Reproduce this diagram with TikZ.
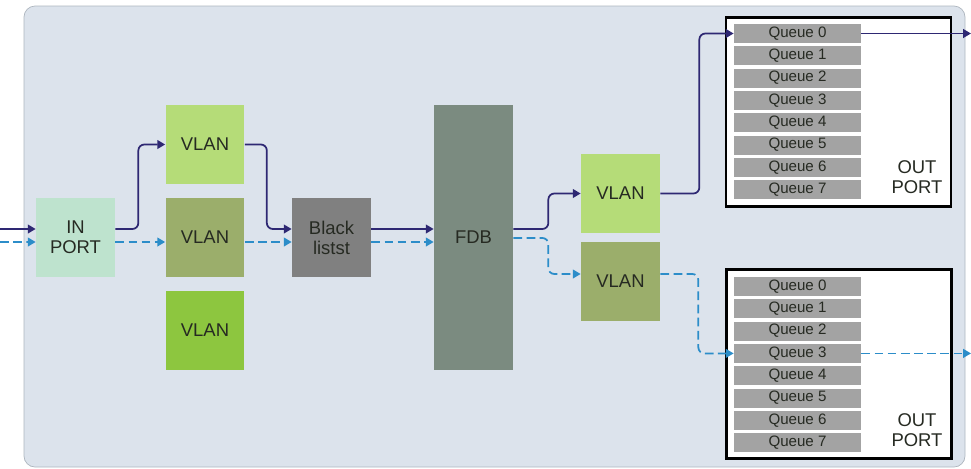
\documentclass[tikz,border=0pt]{standalone}
\usepackage{fontspec}
\setmainfont{Liberation Sans}
\usetikzlibrary{arrows.meta, positioning}

\definecolor{panelbg}{HTML}{DCE3EC}
\definecolor{panelrim}{HTML}{AEB6BF}
\definecolor{inportfill}{HTML}{BEE3CE}
\definecolor{vlanlight}{HTML}{B5DC78}
\definecolor{vlanolive}{HTML}{9BAE6B}
\definecolor{vlanbright}{HTML}{8DC63F}
\definecolor{blackfill}{HTML}{808080}
\definecolor{fdbfill}{HTML}{7B8B80}
\definecolor{queuefill}{HTML}{A3A3A3}
\definecolor{navyline}{HTML}{2E2873}
\definecolor{blueline}{HTML}{2C8DC9}
\definecolor{txtdark}{HTML}{262A22}

\begin{document}
\begin{tikzpicture}[
    x=0.02cm, y=-0.02cm,
    blk/.style={minimum width=1.58cm, minimum height=1.58cm, inner sep=0pt, align=center,
                font=\fontsize{10.5}{11.5}\selectfont, text=txtdark},
    inbox/.style={blk, fill=inportfill},
    vlanA/.style={blk, fill=vlanlight},
    vlanB/.style={blk, fill=vlanolive},
    vlanC/.style={blk, fill=vlanbright},
    blist/.style={blk, fill=blackfill},
    fdbbox/.style={blk, fill=fdbfill, minimum height=5.3cm},
    outbox/.style={draw=black, line width=1.4pt, fill=white, minimum width=4.5cm, minimum height=3.78cm, inner sep=0pt},
    queue/.style={fill=queuefill, minimum width=2.54cm, minimum height=0.38cm, inner sep=0pt,
                  font=\fontsize{8.6}{9}\selectfont, text=txtdark},
    portlbl/.style={align=center, font=\fontsize{10.5}{11.5}\selectfont, text=txtdark},
    flowA/.style={draw=navyline, line width=1pt, rounded corners=0.12cm, -{Triangle[length=4.5pt,width=5pt]}},
    flowB/.style={flowA, draw=blueline, dash pattern=on 5pt off 2.5pt}
]

\useasboundingbox (0,0) rectangle (971,468);
\draw[panelrim, fill=panelbg, rounded corners=0.22cm] (24,6) rectangle (965,467);

% ingress side
\node[inbox] (inport) at (75.5,237.5) {IN\\PORT};
\node[vlanA] (vlan1) at (205,144.5) {VLAN};
\node[vlanB] (vlan2) at (205,237.5) {VLAN};
\node[vlanC] (vlan3) at (205,330.5) {VLAN};
\node[blist] (black) at (331.5,237.5) {Black\\listst};
\node[fdbbox] (fdb) at (473.5,237.5) {FDB};

% egress side
\node[vlanA] (vlan4) at (620.5,193.5) {VLAN};
\node[vlanB] (vlan5) at (620.5,281) {VLAN};

\node[outbox] (outA) at (838.5,112) {};
\node[outbox] (outB) at (839,364) {};
\foreach \i in {0,...,7} {
  \node[queue] (qa\i) at (797.5,33.5+22.3*\i) {Queue \i};
  \node[queue] (qb\i) at (797.5,286.5+22.3*\i) {Queue \i};
}
\node[portlbl] (lblA) at (917,177) {OUT\\PORT};
\node[portlbl] (lblB) at (917,430) {OUT\\PORT};

\coordinate (srcA) at (0,229);
\coordinate (srcB) at (0,242);
\coordinate (dstA) at (971,33.5);
\coordinate (dstB) at (971,353.4);

% solid flow
\draw[flowA] (srcA) -- ([yshift=0.17cm]inport.west);
\draw[flowA] ([yshift=0.17cm]inport.east) -- ++(23,0) |- (vlan1.west);
\draw[flowA] (vlan1.east) -- ++(22,0) |- ([yshift=0.17cm]black.west);
\draw[flowA] ([yshift=0.17cm]black.east) -- ([yshift=0.17cm]black.east -| fdb.west);
\draw[flowA] ([yshift=0.17cm]fdb.east) -- ++(35,0) |- (vlan4.west);
\draw[flowA] (vlan4.east) -- ++(39,0) |- (qa0.west);
\draw[flowA] (qa0.east) -- (dstA);

% dashed flow
\draw[flowB] (srcB) -- ([yshift=-0.09cm]inport.west);
\draw[flowB] ([yshift=-0.09cm]inport.east) -- ([yshift=-0.09cm]vlan2.west);
\draw[flowB] ([yshift=-0.09cm]vlan2.east) -- ([yshift=-0.09cm]black.west);
\draw[flowB] ([yshift=-0.09cm]black.east) -- ([yshift=-0.09cm]black.east -| fdb.west);
\draw[flowB] ([yshift=-0.01cm]fdb.east) -- ++(35,0) |- ([yshift=0.14cm]vlan5.west);
\draw[flowB] ([yshift=0.14cm]vlan5.east) -- ++(38,0) |- (qb3.west);
\draw[flowB] (qb3.east) -- (dstB);

\end{tikzpicture}
\end{document}
